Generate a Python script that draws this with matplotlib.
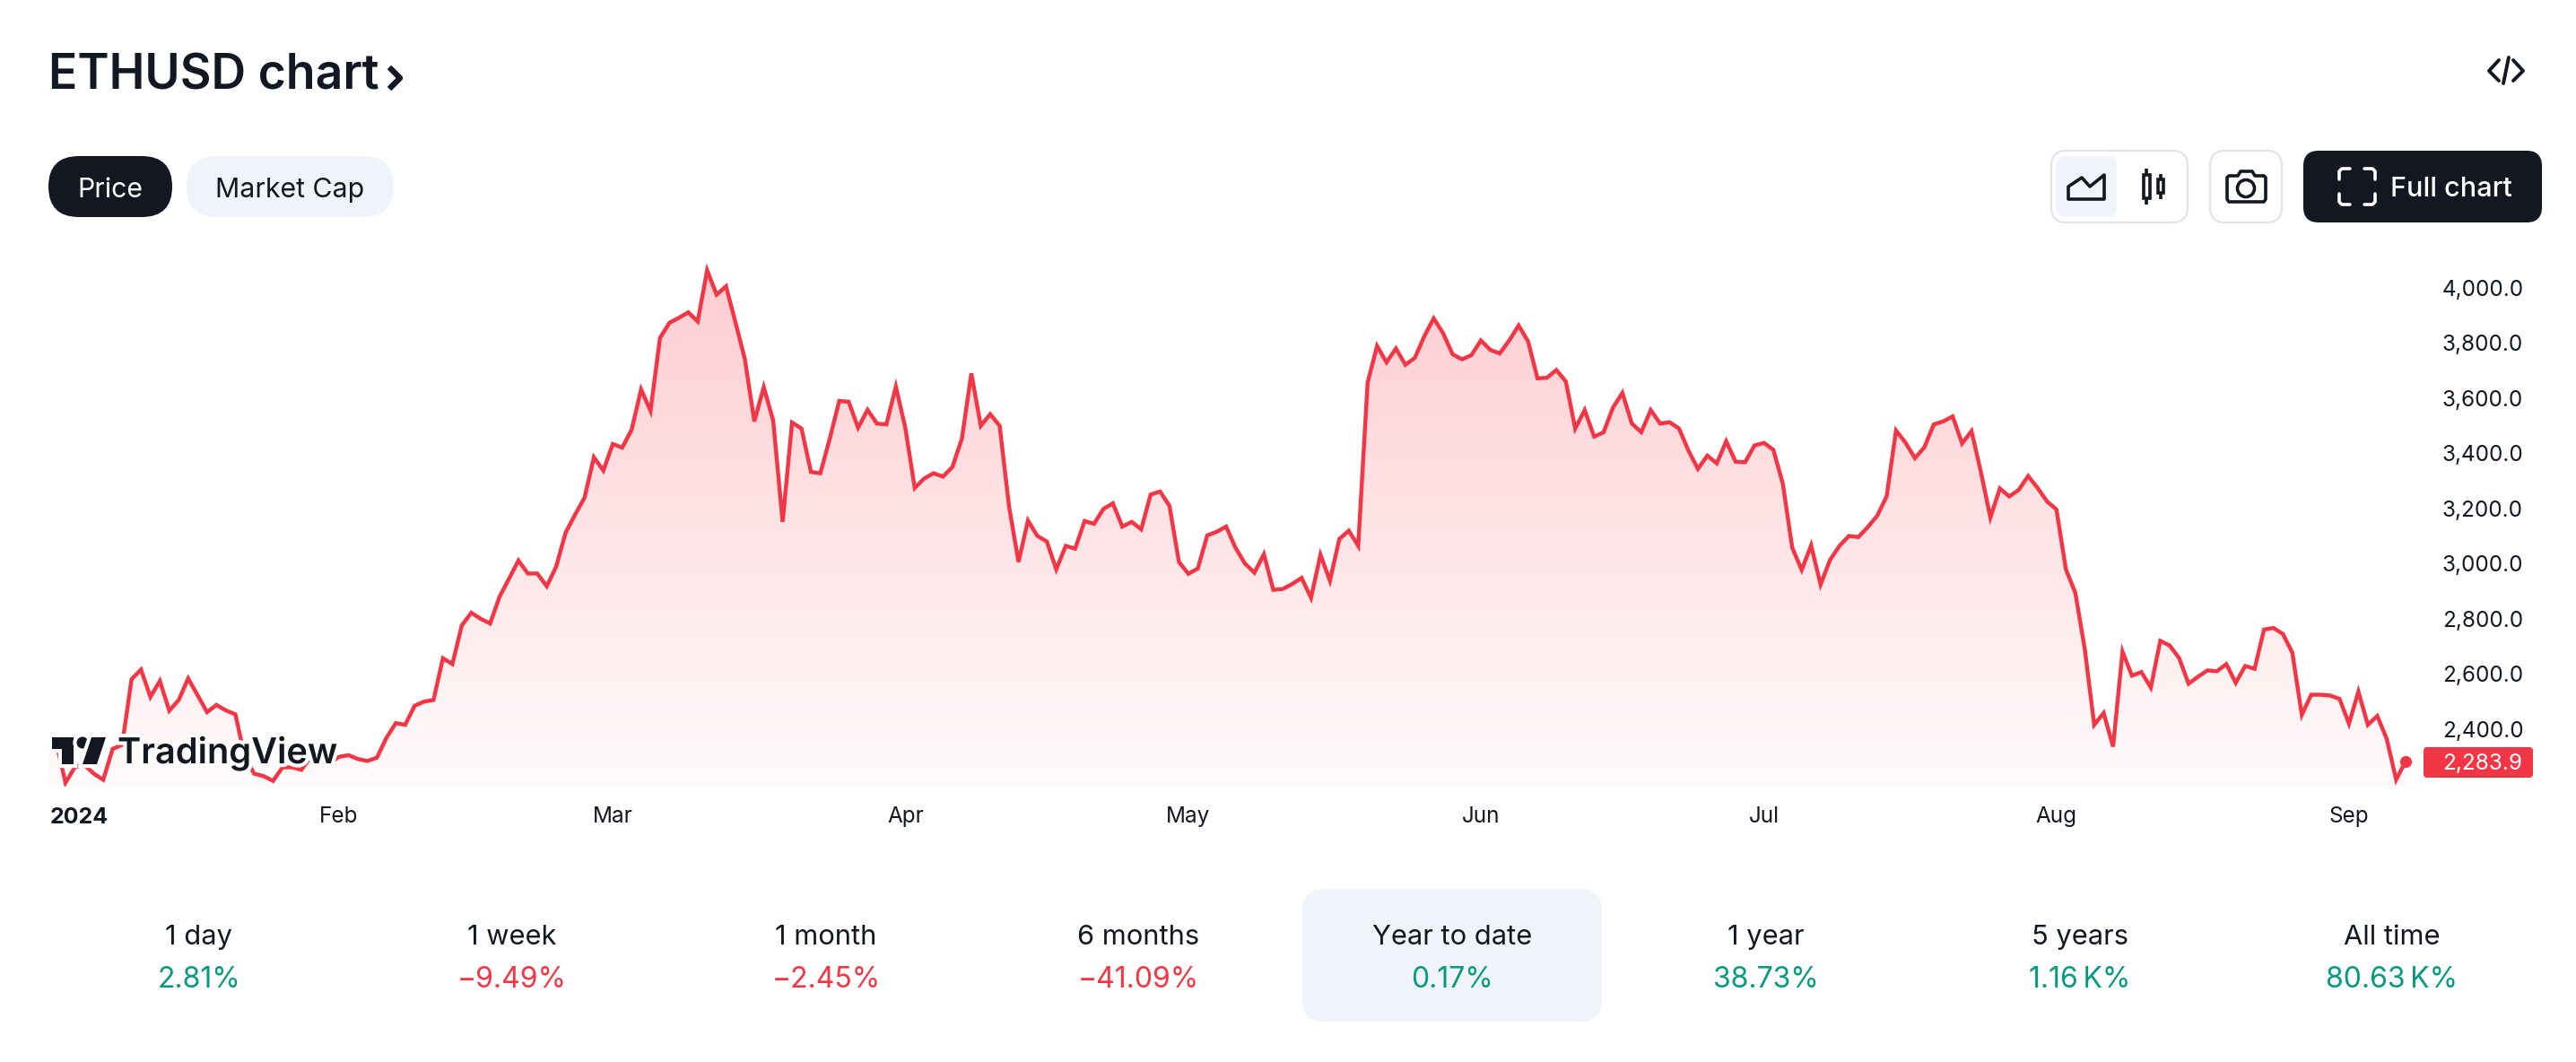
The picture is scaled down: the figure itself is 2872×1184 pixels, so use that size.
import numpy as np
import pandas as pd
import matplotlib
matplotlib.use('Agg')
import matplotlib.pyplot as plt
import matplotlib.patheffects as pe
from matplotlib.colors import LinearSegmentedColormap
from matplotlib.patches import FancyBboxPatch, Rectangle, Circle, Polygon
import matplotlib.dates as mdates

plt.rcParams['font.family'] = ['Inter', 'DejaVu Sans']

# daily ETHUSD closes
prices = [
    2352, 2355, 2206, 2263, 2271, 2239, 2217, 2329, 2343, 2581, 2616, 2517, 2575, 2467, 2506, 2584,
    2523, 2462, 2488, 2468, 2454, 2300, 2239, 2230, 2213, 2262, 2262, 2253, 2300, 2292, 2278,
    2300, 2306, 2292, 2285, 2297, 2368, 2422, 2416, 2485, 2500, 2506, 2657, 2636, 2776, 2822,
    2800, 2783, 2880, 2945, 3011, 2964, 2964, 2918, 2989, 3112, 3177, 3238, 3385, 3337,
    3433, 3420, 3485, 3631, 3553, 3817, 3872, 3890, 3910, 3877, 4062, 3974, 4004, 3874, 3740,
    3515, 3639, 3518, 3151, 3511, 3489, 3332, 3327, 3453, 3589, 3586, 3492, 3557, 3507, 3504, 3641,
    3492, 3274, 3308, 3327, 3315, 3350, 3453, 3689, 3499, 3541, 3499, 3206, 3006, 3156, 3100,
    3080, 2979, 3064, 3054, 3154, 3144, 3198, 3218, 3134, 3151, 3124, 3250, 3261, 3209, 3006,
    2963, 2982, 3102, 3115, 3134, 3057, 3000, 2967, 3034, 2905, 2908, 2926, 2948, 2876, 3032,
    2938, 3089, 3119, 3064, 3656, 3788, 3729, 3779, 3720, 3745, 3823, 3888, 3834, 3758, 3740, 3755,
    3808, 3774, 3761, 3808, 3862, 3805, 3671, 3673, 3701, 3660, 3489, 3556, 3460, 3475, 3565,
    3618, 3507, 3476, 3556, 3507, 3512, 3489, 3409, 3343, 3391, 3363, 3443, 3369, 3367, 3428,
    3437, 3412, 3289, 3057, 2977, 3066, 2924, 3013, 3064, 3100, 3096, 3132, 3173, 3243, 3482,
    3438, 3382, 3421, 3504, 3515, 3533, 3435, 3480, 3330, 3167, 3272, 3243, 3267, 3317, 3274,
    3225, 3196, 2979, 2894, 2691, 2416, 2459, 2337, 2681, 2594, 2607, 2551, 2720, 2703, 2658,
    2565, 2590, 2613, 2610, 2636, 2568, 2629, 2619, 2761, 2767, 2745, 2677, 2452, 2525, 2525,
    2522, 2510, 2420, 2536, 2416, 2448, 2365, 2217, 2283.9,
]
start_date = '2024-01-01'
year_label = '2024'
month_starts = ['2024-02-01', '2024-03-01', '2024-04-01', '2024-05-01', '2024-06-01',
                '2024-07-01', '2024-08-01', '2024-09-01']
month_labels = ['Feb', 'Mar', 'Apr', 'May', 'Jun', 'Jul', 'Aug', 'Sep']
y_ticks = [2400, 2600, 2800, 3000, 3200, 3400, 3600, 3800, 4000]

periods = ['1 day', '1 week', '1 month', '6 months', 'Year to date', '1 year', '5 years', 'All time']
changes = ['2.81%', '\u22129.49%', '\u22122.45%', '\u221241.09%', '0.17%', '38.73%', '1.16\u2009K%', '80.63\u2009K%']
change_up = [True, False, False, False, True, True, True, True]

DARK = '#131722'
RED = '#F23645'
GREEN = '#089981'
PANEL = '#F0F3FA'
BORDER = '#E0E3EB'
W, H = 2872, 1184

dates = pd.date_range(start_date, periods=len(prices), freq='D')

fig = plt.figure(figsize=(W / 100, H / 100), dpi=100, facecolor='white')

# chart pane, pixel box worked out from the tick positions
L, R, T, B = 54, 2702, 270, 877
DAY_PX = 10.52
ax = fig.add_axes([L / W, 1 - B / H, (R - L) / W, (B - T) / H])
for s in ax.spines.values():
    s.set_visible(False)
ax.plot(dates, prices, color=RED, lw=3.2, solid_joinstyle='miter', zorder=3)
# first bar sits 2px left of the pane edge
x0 = pd.Timestamp(start_date) + pd.Timedelta(days=2 / DAY_PX)
x1 = x0 + pd.Timedelta(days=(R - L) / DAY_PX)
ymin = 2400 - (B - 813) / 61.56 * 200
ymax = 4000 + (320.5 - T) / 61.56 * 200

# gradient under the line
cmap = LinearSegmentedColormap.from_list('fade', ['#FFFBFB', '#FECDD1'])
grad = np.linspace(1, 0, 256).reshape(-1, 1)
top = max(prices)
img = ax.imshow(grad, cmap=cmap, aspect='auto', zorder=1,
                extent=[mdates.date2num(dates[0]), mdates.date2num(dates[-1]), ymin, top])
poly = ax.fill_between(dates, prices, ymin, color='none')
img.set_clip_path(poly.get_paths()[0], ax.transData)
ax.set_xlim(x0, x1)
ax.set_ylim(ymin, ymax)

ax.plot(dates[-1], prices[-1], 'o', color=RED, ms=8.5, zorder=4, clip_on=False)

ax.set_xticks(pd.to_datetime(month_starts))
ax.set_xticklabels(month_labels)
ax.tick_params(axis='x', length=0, pad=16, labelsize=17.5, colors=DARK)
ax.yaxis.tick_right()
ax.set_yticks(y_ticks)
ax.set_yticklabels([f'{v:,.1f}' for v in y_ticks])
ax.tick_params(axis='y', length=0, pad=15, labelsize=17.5, colors=DARK)

# everything else goes on a pixel-coordinate overlay
ov = fig.add_axes([0, 0, 1, 1], facecolor='none')
ov.set_xlim(0, W)
ov.set_ylim(H, 0)
ov.axis('off')


def rbox(x0, y0, x1, y1, r, fc, ec='none', lw=0, z=2):
    p = FancyBboxPatch((x0 + r, y0 + r), x1 - x0 - 2 * r, y1 - y0 - 2 * r,
                       boxstyle=f'round,pad={r},rounding_size={r}', fc=fc, ec=ec, lw=lw, zorder=z)
    ov.add_patch(p)


def stroke(xs, ys, color=DARK, lw=3, z=5, cap='round'):
    ov.plot(xs, ys, color=color, lw=lw, solid_capstyle=cap, solid_joinstyle='round', zorder=z)


# header
ov.text(54, 100, 'ETHUSD chart', fontsize=38.5, fontweight='semibold', color=DARK, ha='left', va='baseline')
stroke([434, 446, 434], [75, 87, 99], lw=4.6, cap='butt')
stroke([2786, 2775, 2786], [67, 79, 90], lw=2.8)
stroke([2797, 2791], [64, 93], lw=2.8)
stroke([2802, 2813, 2802], [67, 79, 90], lw=2.8)

# pills
rbox(54, 174, 192, 242, 34, DARK)
ov.text(123, 220, 'Price', fontsize=21.8, color='white', ha='center', va='baseline', zorder=5)
rbox(208, 174, 439, 242, 34, PANEL)
ov.text(323, 220, 'Market Cap', fontsize=21.8, color=DARK, ha='center', va='baseline', zorder=5)

# chart type buttons
rbox(2287, 168, 2439, 248, 17, 'white', BORDER, 1.6)
rbox(2292, 174, 2360, 242, 11, PANEL, z=3)
ov.add_patch(Polygon([(2306, 222), (2306, 208), (2321, 198), (2330, 208), (2346, 195), (2346, 222)],
                     closed=True, fc='none', ec=DARK, lw=2.6, joinstyle='round', zorder=5))
stroke([2393, 2393], [188, 195], lw=2.6, cap='butt')
stroke([2393, 2393], [221, 228], lw=2.6, cap='butt')
ov.add_patch(Rectangle((2390, 195), 7, 26, fc='white', ec=DARK, lw=2.6, zorder=5))
stroke([2409, 2409], [194, 200], lw=2.6, cap='butt')
stroke([2409, 2409], [215, 222], lw=2.6, cap='butt')
ov.add_patch(Rectangle((2406, 200), 6, 15, fc='white', ec=DARK, lw=2.6, zorder=5))

# camera button
rbox(2464, 168, 2544, 248, 17, 'white', BORDER, 1.6)
ov.add_patch(Polygon([(2485, 196), (2495, 196), (2498, 191), (2511, 191), (2514, 196), (2524, 196),
                      (2526, 198), (2526, 222), (2524, 225), (2485, 225), (2483, 222), (2483, 198)],
                     closed=True, fc='none', ec=DARK, lw=2.6, joinstyle='round', zorder=5))
ov.add_patch(Circle((2504, 210), 9.5, fc='none', ec=DARK, lw=2.6, zorder=5))

# full chart button
rbox(2568, 168, 2834, 248, 17, DARK)
for sx, sy, cx, cy in [(1, 1, 2608, 188), (-1, 1, 2648, 188), (1, -1, 2608, 228), (-1, -1, 2648, 228)]:
    stroke([cx, cx, cx + 3 * sx, cx + 12 * sx], [cy + 12 * sy, cy + 3 * sy, cy, cy], color='white', lw=2.6)
ov.text(2665, 219, 'Full chart', fontsize=22, fontweight='medium', color='white', ha='left', va='baseline', zorder=5)

# last price label
rbox(2702, 833, 2824, 867, 4, RED)
ov.text(2723, 858, f'{prices[-1]:,.1f}', fontsize=17.5, color='white', ha='left', va='baseline', zorder=5)

# first x label is pushed right of its tick, so it is placed by hand
ov.text(56, 918, year_label, fontsize=18, fontweight='bold', color=DARK, ha='left', va='baseline')

# TradingView logo with the white halo it has on the chart
halo = [pe.withStroke(linewidth=6, foreground='white')]
logo = [
    Polygon([(58, 822), (82, 822), (82, 852), (69, 852), (69, 835), (58, 835)], closed=True),
    Circle((92, 828), 6.5),
    Polygon([(102, 822), (118, 822), (108, 852), (92, 852)], closed=True),
]
for p in logo:
    p.set(fc=DARK, ec='none', zorder=6, path_effects=[pe.Stroke(linewidth=6, foreground='white'), pe.Normal()])
    ov.add_patch(p)
ov.text(131, 851, 'TradingView', fontsize=28.6, fontweight='semibold', color=DARK, ha='left', va='baseline',
        zorder=6, path_effects=halo)

# period tabs
rbox(1452, 991, 1786, 1139, 24, PANEL, z=1)
tab_x = [222, 571, 921, 1269, 1619, 1969, 2319, 2667]
for i in range(len(periods)):
    ov.text(tab_x[i], 1053, periods[i], fontsize=22.2, color=DARK, ha='center', va='baseline', zorder=5)
    ov.text(tab_x[i], 1101, changes[i], fontsize=23, color=GREEN if change_up[i] else RED,
            ha='center', va='baseline', zorder=5)

fig.savefig('out.png', dpi=100, facecolor='white')
